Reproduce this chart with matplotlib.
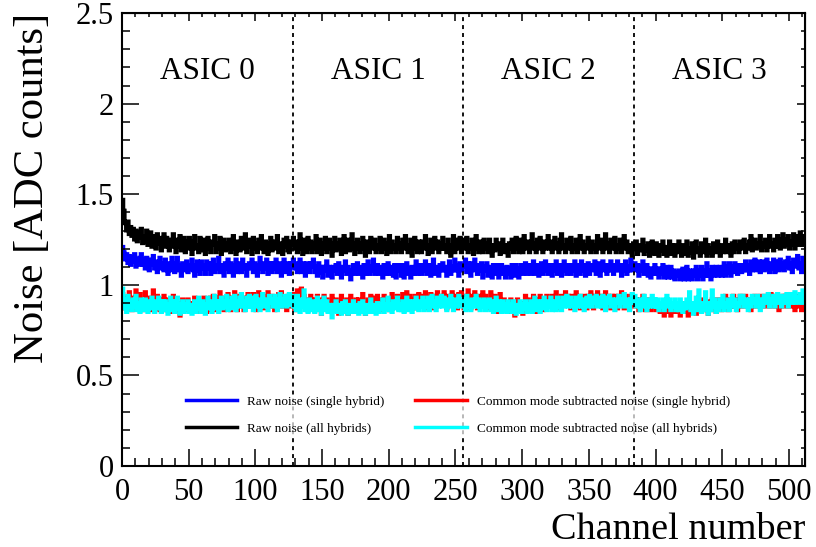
import numpy as np
import matplotlib
matplotlib.use('Agg')
import matplotlib.pyplot as plt

plt.rcParams['font.family'] = ['Liberation Serif', 'DejaVu Serif']

# noise per channel, 512 channels (4 ASICs x 128)
raw_all = [
    1.47, 1.41, 1.34, 1.30, 1.35, 1.28, 1.32, 1.27, 1.31, 1.25, 1.30, 1.24, 1.29, 1.26, 1.31, 1.23,
    1.27, 1.24, 1.30, 1.22, 1.26, 1.29, 1.21, 1.27, 1.25, 1.20, 1.28, 1.23, 1.26, 1.19, 1.25, 1.28,
    1.21, 1.26, 1.23, 1.19, 1.25, 1.21, 1.28, 1.23, 1.18, 1.25, 1.21, 1.27, 1.19, 1.24, 1.26, 1.18,
    1.24, 1.20, 1.26, 1.22, 1.17, 1.24, 1.27, 1.20, 1.22, 1.18, 1.26, 1.21, 1.19, 1.25, 1.17, 1.23,
    1.26, 1.20, 1.18, 1.24, 1.22, 1.27, 1.18, 1.23, 1.20, 1.26, 1.17, 1.22, 1.25, 1.19, 1.23, 1.20,
    1.25, 1.18, 1.22, 1.27, 1.20, 1.17, 1.24, 1.22, 1.19, 1.26, 1.20, 1.23, 1.28, 1.18, 1.21, 1.25,
    1.22, 1.17, 1.26, 1.20, 1.23, 1.18, 1.25, 1.20, 1.27, 1.22, 1.18, 1.24, 1.20, 1.17, 1.23, 1.26,
    1.19, 1.24, 1.20, 1.22, 1.27, 1.18, 1.23, 1.20, 1.17, 1.25, 1.21, 1.26, 1.19, 1.18, 1.24, 1.22,
    1.26, 1.20, 1.24, 1.18, 1.22, 1.28, 1.20, 1.17, 1.25, 1.22, 1.18, 1.26, 1.20, 1.24, 1.18, 1.23,
    1.20, 1.27, 1.18, 1.22, 1.25, 1.17, 1.23, 1.20, 1.26, 1.18, 1.22, 1.25, 1.20, 1.16, 1.23, 1.26,
    1.19, 1.23, 1.20, 1.25, 1.17, 1.22, 1.27, 1.18, 1.21, 1.25, 1.19, 1.22, 1.28, 1.20, 1.17, 1.23,
    1.25, 1.20, 1.18, 1.23, 1.26, 1.20, 1.16, 1.24, 1.22, 1.18, 1.26, 1.20, 1.23, 1.25, 1.18, 1.22,
    1.20, 1.26, 1.18, 1.22, 1.25, 1.20, 1.17, 1.23, 1.27, 1.18, 1.24, 1.20, 1.22, 1.18, 1.26, 1.20,
    1.23, 1.18, 1.25, 1.20, 1.27, 1.22, 1.18, 1.20, 1.25, 1.16, 1.22, 1.26, 1.20, 1.18, 1.24, 1.22,
    1.18, 1.24, 1.20, 1.27, 1.22, 1.17, 1.20, 1.25, 1.18, 1.22, 1.26, 1.20, 1.24, 1.18, 1.23, 1.20,
    1.26, 1.20, 1.22, 1.18, 1.25, 1.20, 1.16, 1.22, 1.27, 1.18, 1.22, 1.25, 1.20, 1.26, 1.18, 1.22,
    1.25, 1.20, 1.26, 1.18, 1.22, 1.20, 1.25, 1.17, 1.22, 1.27, 1.20, 1.18, 1.24, 1.22, 1.18, 1.25,
    1.20, 1.23, 1.18, 1.25, 1.20, 1.16, 1.22, 1.19, 1.25, 1.20, 1.23, 1.17, 1.20, 1.25, 1.18, 1.22,
    1.19, 1.16, 1.23, 1.20, 1.25, 1.18, 1.22, 1.26, 1.20, 1.18, 1.25, 1.22, 1.18, 1.27, 1.20, 1.22,
    1.24, 1.18, 1.22, 1.28, 1.20, 1.23, 1.18, 1.25, 1.20, 1.26, 1.22, 1.18, 1.24, 1.20, 1.22, 1.27,
    1.20, 1.24, 1.18, 1.22, 1.26, 1.20, 1.23, 1.18, 1.25, 1.28, 1.20, 1.22, 1.18, 1.25, 1.22, 1.20,
    1.26, 1.18, 1.22, 1.20, 1.25, 1.18, 1.22, 1.27, 1.20, 1.24, 1.18, 1.22, 1.20, 1.26, 1.22, 1.18,
    1.24, 1.20, 1.22, 1.18, 1.27, 1.22, 1.20, 1.25, 1.18, 1.22, 1.28, 1.20, 1.23, 1.18, 1.25, 1.20,
    1.22, 1.26, 1.18, 1.22, 1.20, 1.25, 1.18, 1.22, 1.27, 1.20, 1.24, 1.18, 1.22, 1.20, 1.16, 1.23,
    1.20, 1.24, 1.17, 1.22, 1.19, 1.21, 1.25, 1.17, 1.21, 1.19, 1.23, 1.16, 1.21, 1.24, 1.18, 1.17,
    1.23, 1.19, 1.16, 1.22, 1.19, 1.24, 1.17, 1.21, 1.16, 1.20, 1.24, 1.17, 1.22, 1.19, 1.16, 1.22,
    1.18, 1.24, 1.19, 1.16, 1.22, 1.17, 1.20, 1.24, 1.16, 1.20, 1.18, 1.23, 1.15, 1.20, 1.24, 1.18,
    1.20, 1.16, 1.23, 1.18, 1.20, 1.25, 1.16, 1.22, 1.18, 1.20, 1.16, 1.23, 1.20, 1.18, 1.24, 1.20,
    1.16, 1.22, 1.18, 1.20, 1.25, 1.18, 1.22, 1.20, 1.16, 1.23, 1.18, 1.24, 1.20, 1.22, 1.18, 1.24,
    1.20, 1.22, 1.25, 1.18, 1.22, 1.20, 1.24, 1.27, 1.19, 1.22, 1.25, 1.20, 1.23, 1.21, 1.27, 1.19,
    1.23, 1.21, 1.25, 1.19, 1.23, 1.27, 1.21, 1.23, 1.19, 1.25, 1.21, 1.27, 1.22, 1.20, 1.25, 1.28,
    1.21, 1.25, 1.22, 1.27, 1.20, 1.24, 1.22, 1.28, 1.20, 1.25, 1.27, 1.22, 1.29, 1.24, 1.22, 1.27,
]

raw_single = [
    1.21, 1.18, 1.14, 1.17, 1.12, 1.16, 1.11, 1.15, 1.13, 1.17, 1.10, 1.14, 1.11, 1.15, 1.17, 1.11,
    1.14, 1.09, 1.15, 1.12, 1.08, 1.14, 1.11, 1.16, 1.09, 1.13, 1.07, 1.12, 1.15, 1.09, 1.12, 1.08,
    1.14, 1.10, 1.06, 1.12, 1.08, 1.15, 1.10, 1.07, 1.12, 1.15, 1.08, 1.11, 1.05, 1.12, 1.08, 1.11,
    1.13, 1.07, 1.11, 1.09, 1.14, 1.08, 1.05, 1.11, 1.13, 1.08, 1.06, 1.13, 1.09, 1.11, 1.06, 1.13,
    1.09, 1.12, 1.06, 1.10, 1.14, 1.07, 1.11, 1.09, 1.15, 1.07, 1.11, 1.09, 1.05, 1.12, 1.09, 1.14,
    1.07, 1.12, 1.09, 1.05, 1.11, 1.14, 1.07, 1.10, 1.12, 1.07, 1.14, 1.09, 1.11, 1.05, 1.10, 1.12,
    1.09, 1.14, 1.07, 1.12, 1.09, 1.05, 1.11, 1.15, 1.09, 1.07, 1.12, 1.09, 1.14, 1.06, 1.10, 1.12,
    1.07, 1.12, 1.09, 1.14, 1.07, 1.10, 1.12, 1.05, 1.10, 1.14, 1.07, 1.12, 1.09, 1.06, 1.12, 1.10,
    1.14, 1.09, 1.12, 1.07, 1.10, 1.14, 1.07, 1.12, 1.09, 1.05, 1.12, 1.09, 1.07, 1.12, 1.10, 1.14,
    1.07, 1.10, 1.05, 1.12, 1.07, 1.10, 1.04, 1.10, 1.08, 1.13, 1.05, 1.10, 1.08, 1.04, 1.10, 1.08,
    1.11, 1.06, 1.12, 1.08, 1.04, 1.10, 1.08, 1.13, 1.06, 1.10, 1.08, 1.03, 1.08, 1.11, 1.06, 1.09,
    1.12, 1.06, 1.10, 1.08, 1.04, 1.11, 1.06, 1.09, 1.13, 1.06, 1.10, 1.08, 1.14, 1.06, 1.08, 1.11,
    1.06, 1.10, 1.08, 1.04, 1.11, 1.06, 1.09, 1.12, 1.06, 1.10, 1.08, 1.05, 1.11, 1.04, 1.09, 1.11,
    1.08, 1.05, 1.11, 1.04, 1.09, 1.12, 1.06, 1.09, 1.04, 1.10, 1.06, 1.09, 1.13, 1.06, 1.08, 1.11,
    1.06, 1.11, 1.08, 1.13, 1.06, 1.09, 1.11, 1.05, 1.09, 1.14, 1.06, 1.10, 1.08, 1.05, 1.11, 1.08,
    1.12, 1.08, 1.10, 1.05, 1.09, 1.13, 1.06, 1.10, 1.08, 1.14, 1.08, 1.11, 1.05, 1.12, 1.08, 1.10,
    1.10, 1.14, 1.07, 1.12, 1.10, 1.05, 1.12, 1.08, 1.14, 1.10, 1.06, 1.11, 1.08, 1.12, 1.04, 1.10,
    1.08, 1.12, 1.05, 1.10, 1.08, 1.04, 1.11, 1.08, 1.06, 1.11, 1.04, 1.09, 1.11, 1.06, 1.09, 1.04,
    1.10, 1.06, 1.09, 1.04, 1.11, 1.08, 1.05, 1.11, 1.08, 1.04, 1.09, 1.11, 1.06, 1.09, 1.12, 1.06,
    1.09, 1.11, 1.06, 1.09, 1.13, 1.06, 1.09, 1.11, 1.05, 1.09, 1.12, 1.06, 1.09, 1.13, 1.08, 1.06,
    1.11, 1.08, 1.05, 1.11, 1.08, 1.13, 1.06, 1.09, 1.11, 1.05, 1.09, 1.13, 1.08, 1.06, 1.11, 1.08,
    1.06, 1.11, 1.08, 1.13, 1.05, 1.09, 1.11, 1.06, 1.13, 1.08, 1.11, 1.05, 1.09, 1.12, 1.06, 1.09,
    1.11, 1.08, 1.13, 1.06, 1.09, 1.12, 1.05, 1.09, 1.13, 1.08, 1.11, 1.06, 1.11, 1.08, 1.13, 1.08,
    1.06, 1.11, 1.08, 1.13, 1.08, 1.11, 1.05, 1.11, 1.08, 1.13, 1.06, 1.10, 1.08, 1.14, 1.08, 1.11,
    1.12, 1.08, 1.11, 1.05, 1.10, 1.08, 1.13, 1.06, 1.09, 1.11, 1.05, 1.09, 1.04, 1.09, 1.06, 1.11,
    1.06, 1.09, 1.04, 1.09, 1.06, 1.11, 1.04, 1.07, 1.10, 1.04, 1.07, 1.10, 1.04, 1.08, 1.03, 1.07,
    1.05, 1.08, 1.03, 1.06, 1.09, 1.03, 1.06, 1.10, 1.03, 1.08, 1.05, 1.03, 1.08, 1.05, 1.10, 1.03,
    1.08, 1.05, 1.10, 1.03, 1.08, 1.05, 1.12, 1.05, 1.08, 1.03, 1.10, 1.05, 1.08, 1.10, 1.05, 1.08,
    1.10, 1.05, 1.08, 1.12, 1.05, 1.10, 1.07, 1.12, 1.05, 1.10, 1.07, 1.12, 1.09, 1.06, 1.11, 1.09,
    1.07, 1.11, 1.08, 1.13, 1.08, 1.11, 1.06, 1.13, 1.08, 1.11, 1.14, 1.08, 1.10, 1.13, 1.07, 1.11,
    1.13, 1.08, 1.11, 1.14, 1.09, 1.07, 1.12, 1.09, 1.14, 1.07, 1.11, 1.13, 1.08, 1.14, 1.09, 1.12,
    1.08, 1.13, 1.10, 1.15, 1.09, 1.12, 1.07, 1.14, 1.10, 1.12, 1.16, 1.09, 1.12, 1.07, 1.15, 1.10,
]

cms_single = [
    0.95, 0.91, 0.87, 0.93, 0.89, 0.96, 0.91, 0.86, 0.93, 0.89, 0.97, 0.88, 0.91, 0.95, 0.89, 0.86,
    0.92, 0.96, 0.88, 0.93, 0.89, 0.86, 0.92, 0.97, 0.89, 0.87, 0.94, 0.90, 0.86, 0.92, 0.88, 0.94,
    0.90, 0.86, 0.92, 0.88, 0.85, 0.90, 0.94, 0.87, 0.92, 0.86, 0.90, 0.83, 0.88, 0.92, 0.86, 0.90,
    0.88, 0.92, 0.86, 0.90, 0.85, 0.88, 0.93, 0.86, 0.90, 0.88, 0.85, 0.91, 0.87, 0.93, 0.88, 0.85,
    0.91, 0.86, 0.93, 0.88, 0.94, 0.86, 0.91, 0.88, 0.93, 0.96, 0.88, 0.91, 0.86, 0.93, 0.88, 0.95,
    0.90, 0.86, 0.93, 0.88, 0.96, 0.90, 0.86, 0.93, 0.94, 0.88, 0.91, 0.86, 0.93, 0.88, 0.95, 0.90,
    0.92, 0.88, 0.95, 0.90, 0.86, 0.92, 0.96, 0.88, 0.90, 0.94, 0.87, 0.92, 0.89, 0.96, 0.88, 0.92,
    0.94, 0.89, 0.86, 0.92, 0.88, 0.95, 0.90, 0.96, 0.88, 0.92, 0.90, 0.86, 0.94, 0.89, 0.92, 0.88,
    0.95, 0.86, 0.90, 0.97, 0.88, 0.92, 0.98, 0.89, 0.94, 0.87, 0.92, 0.86, 0.90, 0.94, 0.87, 0.92,
    0.86, 0.90, 0.94, 0.87, 0.92, 0.84, 0.90, 0.94, 0.87, 0.92, 0.86, 0.90, 0.88, 0.94, 0.86, 0.90,
    0.92, 0.87, 0.84, 0.90, 0.94, 0.86, 0.90, 0.88, 0.92, 0.84, 0.90, 0.94, 0.86, 0.90, 0.88, 0.92,
    0.88, 0.92, 0.86, 0.90, 0.95, 0.88, 0.84, 0.90, 0.92, 0.87, 0.94, 0.86, 0.90, 0.93, 0.88, 0.94,
    0.90, 0.86, 0.92, 0.88, 0.94, 0.90, 0.87, 0.92, 0.86, 0.90, 0.95, 0.88, 0.92, 0.89, 0.94, 0.88,
    0.92, 0.89, 0.95, 0.87, 0.92, 0.96, 0.89, 0.94, 0.87, 0.92, 0.89, 0.94, 0.92, 0.87, 0.95, 0.90,
    0.94, 0.89, 0.92, 0.96, 0.87, 0.92, 0.89, 0.95, 0.92, 0.87, 0.94, 0.89, 0.96, 0.92, 0.89, 0.94,
    0.89, 0.96, 0.92, 0.87, 0.94, 0.89, 0.92, 0.96, 0.89, 0.94, 0.91, 0.87, 0.95, 0.89, 0.96, 0.92,
    0.87, 0.94, 0.89, 0.97, 0.92, 0.87, 0.94, 0.89, 0.96, 0.92, 0.87, 0.94, 0.89, 0.92, 0.96, 0.89,
    0.94, 0.87, 0.92, 0.89, 0.96, 0.92, 0.87, 0.94, 0.89, 0.85, 0.92, 0.95, 0.89, 0.87, 0.92, 0.86,
    0.90, 0.85, 0.88, 0.92, 0.86, 0.90, 0.83, 0.88, 0.92, 0.86, 0.90, 0.88, 0.84, 0.90, 0.94, 0.87,
    0.92, 0.86, 0.90, 0.88, 0.94, 0.90, 0.85, 0.92, 0.88, 0.94, 0.90, 0.86, 0.92, 0.89, 0.94, 0.88,
    0.92, 0.89, 0.94, 0.87, 0.92, 0.96, 0.89, 0.92, 0.87, 0.94, 0.89, 0.92, 0.96, 0.89, 0.94, 0.91,
    0.87, 0.94, 0.89, 0.92, 0.96, 0.89, 0.94, 0.87, 0.92, 0.89, 0.94, 0.91, 0.87, 0.94, 0.89, 0.96,
    0.92, 0.87, 0.94, 0.89, 0.96, 0.92, 0.89, 0.94, 0.87, 0.92, 0.96, 0.89, 0.94, 0.91, 0.87, 0.94,
    0.89, 0.94, 0.92, 0.87, 0.94, 0.89, 0.96, 0.92, 0.87, 0.94, 0.89, 0.92, 0.87, 0.94, 0.89, 0.92,
    0.88, 0.92, 0.89, 0.86, 0.92, 0.88, 0.94, 0.89, 0.86, 0.92, 0.88, 0.90, 0.86, 0.92, 0.88, 0.90,
    0.86, 0.90, 0.88, 0.85, 0.90, 0.86, 0.83, 0.88, 0.85, 0.90, 0.86, 0.83, 0.89, 0.85, 0.90, 0.86,
    0.85, 0.89, 0.83, 0.87, 0.90, 0.85, 0.89, 0.87, 0.83, 0.89, 0.85, 0.90, 0.87, 0.89, 0.84, 0.90,
    0.87, 0.91, 0.88, 0.92, 0.86, 0.90, 0.88, 0.84, 0.91, 0.86, 0.92, 0.88, 0.90, 0.85, 0.92, 0.88,
    0.90, 0.86, 0.92, 0.88, 0.94, 0.90, 0.86, 0.92, 0.88, 0.90, 0.94, 0.88, 0.92, 0.86, 0.90, 0.94,
    0.88, 0.92, 0.90, 0.94, 0.88, 0.92, 0.90, 0.86, 0.92, 0.88, 0.94, 0.90, 0.92, 0.88, 0.94, 0.90,
    0.92, 0.88, 0.94, 0.90, 0.92, 0.88, 0.95, 0.90, 0.94, 0.88, 0.92, 0.90, 0.86, 0.92, 0.88, 0.94,
    0.90, 0.94, 0.88, 0.92, 0.90, 0.95, 0.88, 0.92, 0.86, 0.90, 0.94, 0.88, 0.92, 0.86, 0.90, 0.88,
]

cms_all = [
    0.98, 0.87, 0.92, 0.85, 0.94, 0.88, 0.91, 0.86, 0.92, 0.88, 0.94, 0.86, 0.90, 0.85, 0.92, 0.88,
    0.86, 0.92, 0.88, 0.85, 0.91, 0.87, 0.93, 0.88, 0.85, 0.91, 0.87, 0.93, 0.88, 0.85, 0.91, 0.86,
    0.91, 0.87, 0.84, 0.89, 0.93, 0.86, 0.91, 0.85, 0.89, 0.93, 0.87, 0.84, 0.89, 0.91, 0.85, 0.89,
    0.87, 0.91, 0.85, 0.89, 0.84, 0.87, 0.91, 0.85, 0.89, 0.93, 0.87, 0.85, 0.91, 0.87, 0.84, 0.89,
    0.93, 0.87, 0.91, 0.85, 0.89, 0.94, 0.87, 0.91, 0.85, 0.89, 0.93, 0.87, 0.91, 0.88, 0.94, 0.86,
    0.91, 0.87, 0.93, 0.88, 0.94, 0.86, 0.91, 0.88, 0.93, 0.95, 0.88, 0.91, 0.86, 0.93, 0.88, 0.94,
    0.88, 0.93, 0.86, 0.91, 0.94, 0.88, 0.92, 0.86, 0.91, 0.95, 0.88, 0.92, 0.90, 0.86, 0.94, 0.90,
    0.92, 0.88, 0.94, 0.90, 0.86, 0.92, 0.95, 0.88, 0.92, 0.89, 0.94, 0.88, 0.92, 0.95, 0.89, 0.94,
    0.88, 0.92, 0.86, 0.94, 0.90, 0.85, 0.92, 0.88, 0.97, 0.86, 0.91, 0.85, 0.92, 0.88, 0.86, 0.91,
    0.85, 0.89, 0.93, 0.86, 0.91, 0.84, 0.89, 0.93, 0.86, 0.91, 0.85, 0.89, 0.87, 0.82, 0.89, 0.86,
    0.91, 0.85, 0.89, 0.87, 0.84, 0.90, 0.85, 0.91, 0.87, 0.84, 0.89, 0.85, 0.88, 0.91, 0.85, 0.89,
    0.87, 0.84, 0.90, 0.85, 0.91, 0.87, 0.84, 0.89, 0.85, 0.88, 0.92, 0.85, 0.89, 0.87, 0.84, 0.90,
    0.85, 0.89, 0.87, 0.92, 0.85, 0.89, 0.87, 0.93, 0.86, 0.89, 0.85, 0.91, 0.87, 0.89, 0.93, 0.86,
    0.89, 0.86, 0.91, 0.85, 0.89, 0.93, 0.86, 0.91, 0.88, 0.85, 0.91, 0.87, 0.93, 0.89, 0.86, 0.91,
    0.88, 0.93, 0.86, 0.91, 0.88, 0.93, 0.86, 0.91, 0.94, 0.88, 0.91, 0.86, 0.93, 0.88, 0.91, 0.94,
    0.88, 0.93, 0.90, 0.86, 0.92, 0.88, 0.94, 0.90, 0.86, 0.92, 0.88, 0.91, 0.94, 0.88, 0.92, 0.90,
    0.92, 0.86, 0.94, 0.88, 0.91, 0.86, 0.92, 0.88, 0.91, 0.94, 0.88, 0.92, 0.86, 0.91, 0.88, 0.92,
    0.86, 0.91, 0.88, 0.92, 0.86, 0.91, 0.85, 0.89, 0.93, 0.86, 0.91, 0.88, 0.85, 0.91, 0.86, 0.89,
    0.85, 0.91, 0.86, 0.89, 0.85, 0.91, 0.87, 0.84, 0.89, 0.86, 0.91, 0.85, 0.89, 0.87, 0.91, 0.85,
    0.89, 0.86, 0.91, 0.85, 0.89, 0.93, 0.86, 0.91, 0.88, 0.85, 0.91, 0.87, 0.93, 0.89, 0.86, 0.91,
    0.88, 0.93, 0.86, 0.91, 0.88, 0.86, 0.93, 0.88, 0.91, 0.86, 0.93, 0.88, 0.91, 0.94, 0.88, 0.91,
    0.93, 0.88, 0.91, 0.86, 0.93, 0.88, 0.91, 0.94, 0.88, 0.92, 0.86, 0.91, 0.93, 0.88, 0.94, 0.90,
    0.88, 0.93, 0.90, 0.94, 0.88, 0.91, 0.93, 0.88, 0.94, 0.90, 0.86, 0.93, 0.90, 0.94, 0.88, 0.92,
    0.90, 0.86, 0.92, 0.90, 0.94, 0.88, 0.92, 0.90, 0.95, 0.88, 0.92, 0.90, 0.86, 0.92, 0.95, 0.90,
    0.94, 0.88, 0.92, 0.90, 0.86, 0.92, 0.88, 0.94, 0.90, 0.86, 0.92, 0.88, 0.90, 0.94, 0.88, 0.92,
    0.88, 0.92, 0.86, 0.90, 0.88, 0.92, 0.86, 0.90, 0.94, 0.88, 0.92, 0.86, 0.90, 0.88, 0.92, 0.86,
    0.90, 0.86, 0.92, 0.88, 0.85, 0.90, 0.87, 0.92, 0.88, 0.96, 0.86, 0.90, 0.84, 0.88, 0.93, 0.86,
    0.97, 0.88, 0.85, 0.90, 0.86, 0.96, 0.88, 0.84, 0.90, 0.86, 0.97, 0.88, 0.92, 0.85, 0.90, 0.86,
    0.92, 0.88, 0.94, 0.86, 0.90, 0.88, 0.92, 0.86, 0.90, 0.94, 0.88, 0.92, 0.86, 0.90, 0.88, 0.94,
    0.90, 0.94, 0.88, 0.92, 0.90, 0.86, 0.92, 0.88, 0.94, 0.90, 0.92, 0.88, 0.94, 0.90, 0.86, 0.92,
    0.88, 0.94, 0.90, 0.92, 0.95, 0.88, 0.92, 0.90, 0.94, 0.88, 0.92, 0.95, 0.90, 0.94, 0.88, 0.92,
    0.94, 0.90, 0.95, 0.88, 0.92, 0.95, 0.90, 0.94, 0.96, 0.90, 0.93, 0.91, 0.95, 0.90, 0.97, 0.93,
]

asic_names = ['ASIC 0', 'ASIC 1', 'ASIC 2', 'ASIC 3']
asic_edges = [128, 256, 384]
n_ch = 512

fig = plt.figure(figsize=(8.16, 5.47), dpi=100)
ax = fig.add_axes([0.1495, 0.148, 0.837, 0.828])

edges = np.arange(n_ch + 1)
lw = 2.8
h_blue = ax.stairs(raw_single, edges, color='#0000ff', lw=lw, baseline=None,
                   label='Raw noise (single hybrid)')
h_black = ax.stairs(raw_all, edges, color='black', lw=lw, baseline=None,
                    label='Raw noise (all hybrids)')
h_red = ax.stairs(cms_single, edges, color='#ff0000', lw=lw, baseline=None,
                  label='Common mode subtracted noise (single hybrid)')
h_cyan = ax.stairs(cms_all, edges, color='#00ffff', lw=lw, baseline=None,
                   label='Common mode subtracted noise (all hybrids)')

for e in asic_edges:
    ax.axvline(e, color='black', lw=1.3, ls=(0, (2.2, 2.2)), zorder=1)

for i, name in enumerate(asic_names):
    ax.text(64 + 128 * i, 2.18, name, ha='center', va='center', fontsize=22.5)

ax.set_xlim(0, n_ch)
ax.set_ylim(0, 2.5)
ax.set_xticks(np.arange(0, 501, 50))
ax.set_xticks(np.arange(0, 512, 10), minor=True)
ax.set_yticks(np.arange(0, 2.51, 0.5))
ax.set_yticks(np.arange(0, 2.51, 0.1), minor=True)
ax.set_yticklabels(['0', '0.5', '1', '1.5', '2', '2.5'])
ax.tick_params(which='both', direction='in', labelsize=22, width=1.1, pad=6)
ax.tick_params(axis='x', which='both', pad=8.5)
ax.tick_params(which='major', length=12)
ax.tick_params(which='minor', length=6)
for s in ax.spines.values():
    s.set_linewidth(1.5)

# short ticks on top and right like ROOT
axt = ax.secondary_xaxis('top')
axt.set_xticks(np.arange(0, 501, 50))
axt.set_xticks(np.arange(0, 512, 10), minor=True)
axt.tick_params(which='both', direction='in', labeltop=False, width=1.1)
axt.tick_params(which='major', length=6)
axt.tick_params(which='minor', length=3)
axr = ax.secondary_yaxis('right')
axr.set_yticks(np.arange(0, 2.51, 0.5))
axr.set_yticks(np.arange(0, 2.51, 0.1), minor=True)
axr.tick_params(which='both', direction='in', labelright=False, width=1.1)
axr.tick_params(which='major', length=6)
axr.tick_params(which='minor', length=3)

ax.set_xlabel('Channel number', loc='right', fontsize=27.5, labelpad=4)
ax.set_ylabel('Noise [ADC counts]', loc='top', fontsize=30.7, labelpad=17)

leg = ax.legend(handles=[h_blue, h_black, h_red, h_cyan], ncol=2, frameon=True,
                loc='upper left', bbox_to_anchor=(0.093, 0.156), fontsize=9.5,
                handlelength=3.9, handletextpad=0.75, columnspacing=2.35,
                labelspacing=1.12, borderpad=0, borderaxespad=0)
leg.get_frame().set_facecolor('white')
leg.get_frame().set_edgecolor('none')
leg.get_frame().set_alpha(0.7)
for l in leg.get_lines():
    l.set_linewidth(2.5)

fig.savefig('out.png', dpi=100)
